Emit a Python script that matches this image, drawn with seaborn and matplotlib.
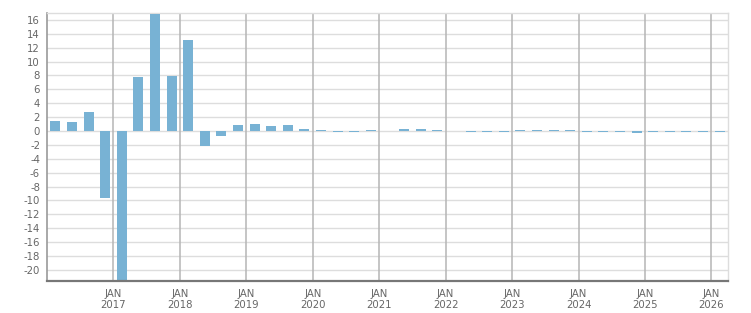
import matplotlib
matplotlib.use("Agg")
import matplotlib.pyplot as plt
import seaborn as sns
import numpy as np
import pandas as pd

# Quarterly data, Q1 2016 .. Q1 2026
quarters = [f"{y}Q{q}" for y in range(2016, 2026) for q in range(1, 5)] + ["2026Q1"]
values = [1.5, 1.3, 2.8, -9.7,
          -23.0, 7.8, 16.9, 7.9,
          13.1, -2.2, -0.7, 0.9,
          1.0, 0.7, 0.85, 0.3,
          0.15, -0.12, -0.12, 0.15,
          0.0, 0.3, 0.3, 0.15,
          0.0, -0.12, -0.12, -0.12,
          0.15, 0.15, 0.15, 0.15,
          -0.12, -0.12, -0.12, -0.35,
          -0.12, -0.12, -0.12, -0.12,
          -0.12]
year_labels = [str(y) for y in range(2017, 2027)]
y_ticks = list(range(-20, 17, 2))

df = pd.DataFrame({"quarter": quarters, "value": values})

sns.set_theme(style="white")
plt.rcParams['font.family'] = ['DejaVu Sans']

fig = plt.figure(figsize=(7.51, 3.13), dpi=100)
ax = fig.add_axes([47/751, 1 - 281/313, (728-47)/751, (281-13)/313])

sns.barplot(data=df, x="quarter", y="value", color="#78b2d4", saturation=1,
            width=0.6, ax=ax, zorder=3, linewidth=0, edgecolor="none")

ax.set_xlim(-0.5, 40.45)
ax.set_ylim(-21.6, 17.0)

# gridlines
ax.set_yticks(y_ticks)
ax.set_yticklabels([str(t) for t in y_ticks])
for t in y_ticks:
    ax.axhline(t, color="#dddddd", lw=1.0, zorder=1)
major = [(int(y) - 2017) * 4 + 3.5 for y in year_labels]
for m in major:
    ax.axvline(m, color="#b5b5b5", lw=1.1, zorder=2)

ax.set_xticks(major)
ax.set_xticklabels([f"JAN\n{y}" for y in year_labels])
minor = [k + 0.5 for k in range(-1, 41)]
ax.set_xticks(minor, minor=True)

ax.tick_params(axis="x", which="major", length=4, width=1, color="#777777",
               labelsize=7.3, labelcolor="#666666", pad=1.5)
ax.tick_params(axis="x", which="minor", length=2.5, width=1, color="#777777")
ax.tick_params(axis="y", length=3, width=1, color="#999999",
               labelsize=7.3, labelcolor="#666666", pad=2)
for lab in ax.get_xticklabels():
    lab.set_linespacing(1.2)

ax.set_xlabel("")
ax.set_ylabel("")

for s in ["top", "right"]:
    ax.spines[s].set_visible(True)
    ax.spines[s].set_color("#dddddd")
    ax.spines[s].set_linewidth(1)
ax.spines["left"].set_color("#999999")
ax.spines["left"].set_linewidth(1.2)
ax.spines["bottom"].set_color("#777777")
ax.spines["bottom"].set_linewidth(1.6)
ax.spines["bottom"].set_zorder(5)

fig.savefig("out.png", dpi=100)
